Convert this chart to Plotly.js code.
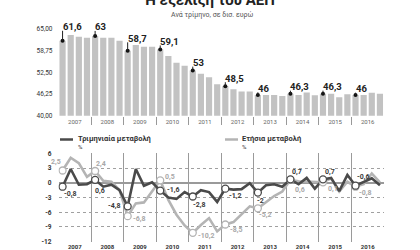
<!DOCTYPE html>
<html><head><meta charset="utf-8">
<script src="https://cdn.plot.ly/plotly-3.0.1.min.js"></script>
<style>html,body{margin:0;padding:0;background:#fff}#chart{width:420px;height:250px}</style>
</head><body><div id="chart"></div>
<script>
// ---- data ----
const years = ['2007','2008','2009','2010','2011','2012','2013','2014','2015','2016'];
const gdp = [61.6, 63.3, 62.8, 62.5, 63.0, 62.5, 62.5, 61.6, 58.7, 60.4, 59.9, 59.9, 59.1, 57.2, 55.3, 54.4, 53.0, 52.1, 51.1, 49.1, 48.5, 47.6, 47.0, 47.0, 46.0, 46.0, 46.0, 45.7, 46.3, 46.0, 46.7, 45.9, 46.3, 46.3, 45.3, 46.2, 46.0, 46.0, 46.6, 46.3];
const gdpLabels = ['61,6','63','58,7','59,1','53','48,5','46','46,3','46,3','46'];
const quarterly = [-0.8, 2.8, -0.4, -0.3, 0.6, -0.8, -0.4, -1.5, -4.8, 2.8, -0.6, 0.1, -1.6, -3.0, -3.3, -1.9, -2.8, -1.5, -1.9, -3.9, -1.2, -1.4, -1.3, -0.1, -2.0, -0.5, -0.3, -0.8, 0.7, -0.3, 1.0, -1.2, 0.7, 1.0, -1.7, 1.6, -0.6, 0.2, 0.9, -0.5];
const quarterlyLabels = ['-0,8','0,6','-4,8','-1,6','-2,8','-1,2','-2','0,7','0,7','-0,6'];
const annual = [2.5, 5.1, 4.0, 1.2, 2.4, 0.4, 0.2, -1.5, -6.8, -4.2, -4.0, -1.8, 0.5, -3.5, -6.5, -8.7, -10.2, -8.6, -7.2, -9.9, -8.5, -8.0, -6.5, -4.8, -5.2, -4.0, -2.7, -1.8, 0.6, 0.3, 0.2, 0.1, 0.1, 0.9, -1.8, 0.2, -0.8, -0.3, 1.9, 0.1];
const annualLabels = ['2,5','2,4','-6,8','0,5','-10,2','-8,5','-5,2','0,6','0,1','-0,8'];
const topTicks = [40, 46.25, 52.5, 58.75, 65];
const topTickText = ['40,00','46,25','52,50','58,75','65,00'];
const botTicks = [-12, -9, -6, -3, 0, 3, 6];
const botTickText = ['-12','-9','-6','-3','0','3','6'];
const title = 'Η εξέλιξη του ΑΕΠ';
const subtitle = 'Ανά τρίμηνο, σε δισ. ευρώ';
const legendQ = 'Τριμηνιαία μεταβολή';
const legendA = 'Ετήσια μεταβολή';

// ---- styling / placement (not data) ----
const F = 'Roboto, "Liberation Sans", sans-serif';
const DARK = '#4a4a4a', LIGHT = '#b4b4b4', BAR = '#c2c2c2';
const topLabelOff = [14, 9, 12.5, 8, 8, 8, 6.6, 7.2, 7.2, 6.2];
const darkPos = [['left',-1,-7],['left',-2,-11],['right',-5,0],['left',5,1],['left',-2,-8],['left',2,-7],['left',-3,-8],['left',0,7],['left',0,7],['left',-1,9]];
const lightPos = [['right',0,8],['left',-1,7],['left',3,-3],['left',3,3],['left',3,-3],['left',3,-5],['left',-1,-7],['left',3,-10],['left',3,-7],['left',1,-6]];

const idx = gdp.map((_, i) => i);
const q1 = years.map((_, i) => i * 4);
const centers = years.map((_, i) => i * 4 + 1.5);
const bounds = years.slice(1).map((_, i) => (i + 1) * 4 - 0.5);

const traces = [
  {type:'bar', x: idx, y: gdp, xaxis:'x', yaxis:'y', marker:{color: BAR}, hoverinfo:'skip'},
  {type:'scatter', mode:'markers', x: q1, y: q1.map(i => gdp[i]), xaxis:'x', yaxis:'y',
   marker:{color:'#111', size:4}, hoverinfo:'skip'},
  {type:'scatter', mode:'lines', x: idx, y: annual, xaxis:'x2', yaxis:'y2',
   line:{color: LIGHT, width: 2.6}, hoverinfo:'skip'},
  {type:'scatter', mode:'lines', x: idx, y: quarterly, xaxis:'x2', yaxis:'y2',
   line:{color: DARK, width: 2.6}, hoverinfo:'skip'},
  {type:'scatter', mode:'markers', x: q1, y: q1.map(i => annual[i]), xaxis:'x2', yaxis:'y2',
   marker:{color:'#fff', size:7, line:{color: LIGHT, width:1.3}}, hoverinfo:'skip'},
  {type:'scatter', mode:'markers', x: q1, y: q1.map(i => quarterly[i]), xaxis:'x2', yaxis:'y2',
   marker:{color:'#fff', size:7, line:{color: DARK, width:1.3}}, hoverinfo:'skip'}
];

const annotations = [];
const shapes = [];
q1.forEach((i, k) => {
  annotations.push({xref:'x', yref:'y', x: i, y: gdp[i], text: gdpLabels[k], showarrow:false,
    xanchor:'left', yanchor:'middle', xshift:-2, yshift: topLabelOff[k],
    font:{family:F, size:9.5, color:'#222', weight:'bold'}});
  shapes.push({type:'line', xref:'x', yref:'y', ysizemode:'pixel', yanchor: gdp[i],
    x0: i, x1: i, y0: 0, y1: topLabelOff[k] - 4, line:{color:'#222', width:1}});
  const dp = darkPos[k];
  annotations.push({xref:'x2', yref:'y2', x: i, y: quarterly[i], text: quarterlyLabels[k], showarrow:false,
    xanchor: dp[0], yanchor:'middle', xshift: dp[1], yshift: dp[2],
    font:{family:F, size:7, color:'#3a3a3a', weight:'bold'}});
  const lp = lightPos[k];
  annotations.push({xref:'x2', yref:'y2', x: i, y: annual[i], text: annualLabels[k], showarrow:false,
    xanchor: lp[0], yanchor:'middle', xshift: lp[1], yshift: lp[2],
    font:{family:F, size:7, color:'#a8a8a8', weight:'bold'}});
});
annotations.push({xref:'paper', yref:'paper', x:0.505, y:1-14.7/250, text: subtitle, showarrow:false,
  xanchor:'center', yanchor:'middle', font:{family:F, size:7, color:'#555'}});
annotations.push({xref:'paper', yref:'paper', x:76/420, y:1-138/250, text: legendQ, showarrow:false,
  xanchor:'left', yanchor:'middle', font:{family:F, size:7.5, color:'#333', weight:'bold'}});
annotations.push({xref:'paper', yref:'paper', x:76/420, y:1-146.5/250, text:'%', showarrow:false,
  xanchor:'left', yanchor:'middle', font:{family:F, size:6, color:'#333'}});
annotations.push({xref:'paper', yref:'paper', x:240/420, y:1-138/250, text: legendA, showarrow:false,
  xanchor:'left', yanchor:'middle', font:{family:F, size:7.5, color:'#333', weight:'bold'}});
annotations.push({xref:'paper', yref:'paper', x:240/420, y:1-146.5/250, text:'%', showarrow:false,
  xanchor:'left', yanchor:'middle', font:{family:F, size:6, color:'#333'}});
shapes.push({type:'line', xref:'paper', yref:'paper', x0:60/420, x1:73/420, y0:1-139.5/250, y1:1-139.5/250,
  line:{color: DARK, width:2.5}});
shapes.push({type:'line', xref:'paper', yref:'paper', x0:225/420, x1:238/420, y0:1-139.5/250, y1:1-139.5/250,
  line:{color: LIGHT, width:2.5}});

const xdom = [58.5/420, 384/420];
const layout = {
  width:420, height:250, margin:{l:0, r:0, t:0, b:0}, paper_bgcolor:'#fff', plot_bgcolor:'#fff',
  showlegend:false, bargap:0.24, font:{family:F},
  title:{text: title, x:0.5, xanchor:'center', y:1, yref:'container', yanchor:'middle',
    font:{family:F, size:15, color:'#222', weight:'bold'}},
  xaxis:{domain: xdom, range:[-0.5, 39.5], anchor:'y', showgrid:false, zeroline:false, showline:false,
    tickmode:'array', tickvals: centers, ticktext: years, ticks:'', ticklabelstandoff:1,
    tickfont:{family:F, size:6, color:'#666'},
    minor:{tickmode:'array', tickvals: bounds, ticks:'outside', ticklen:8, tickcolor:'#999', tickwidth:1, showgrid:false}},
  yaxis:{domain:[1-115.7/250, 1-29/250], range:[40, 65], anchor:'x', showgrid:false, zeroline:false,
    tickmode:'array', tickvals: topTicks, ticktext: topTickText, ticks:'', ticklabelstandoff:5,
    tickfont:{family:F, size:6.5, color:'#333'}},
  xaxis2:{domain: xdom, range:[-0.5, 39.5], anchor:'y2', showgrid:false, zeroline:false, showline:false,
    tickmode:'array', tickvals: centers, ticktext: years, ticks:'', ticklabelstandoff:0,
    tickfont:{family:F, size:6, color:'#333', weight:'bold'},
    minor:{tickmode:'array', tickvals: bounds, showgrid:true, gridcolor:'#9a9a9a', gridwidth:1, ticks:''}},
  yaxis2:{domain:[1-241.7/250, 1-153.3/250], range:[-12, 6], anchor:'x2', showgrid:true,
    gridcolor:'#a0a0a0', griddash:'dot', gridwidth:1, zeroline:true, zerolinecolor:'#9a9a9a', zerolinewidth:1.5,
    tickmode:'array', tickvals: botTicks, ticktext: botTickText, ticks:'', ticklabelstandoff:6,
    tickfont:{family:F, size:6.5, color:'#333', weight:'bold'}},
  annotations, shapes
};
Plotly.newPlot('chart', traces, layout, {staticPlot:true, displayModeBar:false});
</script></body></html>
